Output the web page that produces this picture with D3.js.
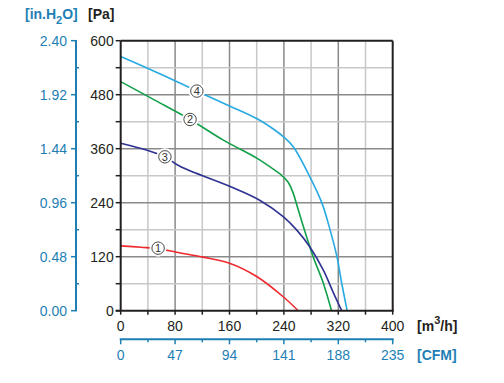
<!DOCTYPE html>
<html><head><meta charset="utf-8">
<script src="https://cdn.jsdelivr.net/npm/d3@7"></script>
<style>body{margin:0;background:#fff}svg{display:block;font-family:"Liberation Sans",Arial,sans-serif}</style>
</head><body><svg id="c" width="504" height="383"></svg>
<script>
const paTicks = [0,120,240,360,480,600];
const inTicks = [0.00,0.48,0.96,1.44,1.92,2.40];
const m3Ticks = [0,80,160,240,320,400];
const cfmTicks = [0,47,94,141,188,235];
const curve1 = [[0,144],[30,141],[55,138],[82,130],[121,119],[161,105],[200,76],[239,31],[261,0]];
const curve2 = [[0,509],[50,468],[102,425],[151,379],[200,339],[224,315],[236,302],[246,286],[253,264],[260,230],[268,190],[283,120],[298,61],[310,0]];
const curve3 = [[0,372],[40,356],[65,342],[87,321],[161,276],[205,245],[239,209],[259,179],[278,142],[298,90],[313,39],[325,0]];
const curve4 = [[0,565],[60,525],[112,488],[160,455],[200,427],[227,401],[239,387],[254,364],[278,298],[296,239],[308,179],[318,120],[325,61],[333,0]];
const curves = [
  {id:"1", data:curve1, color:"#ee2a2f", lab:[55,139]},
  {id:"2", data:curve2, color:"#13a04a", lab:[102,425]},
  {id:"3", data:curve3, color:"#2e3192", lab:[65,342]},
  {id:"4", data:curve4, color:"#27aae1", lab:[112,488]}
];
const blue = "#1f7fb4";
const svg = d3.select("#c");
const x = d3.scaleLinear().domain([0,400]).range([120.7,392.7]);
const y = d3.scaleLinear().domain([0,600]).range([310.7,40.7]);
const yIn = d3.scaleLinear().domain([0,2.4]).range([310.7,40.7]);
const xC = d3.scaleLinear().domain([0,235]).range([120.7,392.7]);

// grid
const g = svg.append("g");
d3.range(40,400,40).forEach((v,i)=>{
  g.append("line").attr("x1",x(v)).attr("x2",x(v)).attr("y1",y(0)).attr("y2",y(600))
   .attr("stroke", v%80===0?"#8a8a8a":"#c8c8c8").attr("stroke-width",1.5);
});
d3.range(60,600,60).forEach(v=>{
  g.append("line").attr("x1",x(0)).attr("x2",x(400)).attr("y1",y(v)).attr("y2",y(v))
   .attr("stroke", v%120===0?"#8a8a8a":"#c8c8c8").attr("stroke-width",1.5);
});
// frame top/right
g.append("line").attr("x1",x(0)).attr("x2",x(400)).attr("y1",y(600)).attr("y2",y(600)).attr("stroke","#231f20").attr("stroke-width",2);
g.append("line").attr("x1",x(400)).attr("x2",x(400)).attr("y1",y(0)).attr("y2",y(600)).attr("stroke","#231f20").attr("stroke-width",2);

// curves
const line = d3.line().x(d=>x(d[0])).y(d=>y(d[1])).curve(d3.curveCatmullRom.alpha(0.5));
curves.forEach(c=>{
  svg.append("path").attr("d",line(c.data)).attr("fill","none").attr("stroke",c.color).attr("stroke-width",1.6);
});
curves.forEach(c=>{
  const cx=x(c.lab[0]), cy=y(c.lab[1]);
  svg.append("circle").attr("cx",cx).attr("cy",cy).attr("r",7.5).attr("fill","#fff").attr("stroke","#fff").attr("stroke-width",2);
  svg.append("circle").attr("cx",cx).attr("cy",cy).attr("r",6.2).attr("fill","#fff").attr("stroke","#333").attr("stroke-width",0.9);
  svg.append("text").attr("x",cx).attr("y",cy+4).attr("text-anchor","middle").attr("font-size",11).attr("fill","#333").text(c.id);
});

// Pa axis (left)
const axPa = svg.append("g");
axPa.append("line").attr("x1",x(0)).attr("x2",x(0)).attr("y1",y(0)).attr("y2",y(600)).attr("stroke","#231f20").attr("stroke-width",2);
d3.range(0,601,60).forEach(v=>{
  axPa.append("line").attr("x1",x(0)-5).attr("x2",x(0)).attr("y1",y(v)).attr("y2",y(v)).attr("stroke","#231f20").attr("stroke-width",1.5);
});
paTicks.forEach(v=>{
  axPa.append("text").attr("x",x(0)-7).attr("y",y(v)+5).attr("text-anchor","end").attr("font-size",14).attr("fill","#231f20").text(v);
});
// m3/h axis (bottom)
const axM = svg.append("g");
axM.append("line").attr("x1",x(0)-5).attr("x2",x(400)+1).attr("y1",y(0)).attr("y2",y(0)).attr("stroke","#231f20").attr("stroke-width",2);
d3.range(0,401,40).forEach(v=>{
  axM.append("line").attr("x1",x(v)).attr("x2",x(v)).attr("y1",y(0)).attr("y2",y(0)+4).attr("stroke","#231f20").attr("stroke-width",1.5);
});
m3Ticks.forEach(v=>{
  axM.append("text").attr("x",x(v)).attr("y",331).attr("text-anchor","middle").attr("font-size",14).attr("fill","#231f20").text(v);
});
// in.H2O axis
const axI = svg.append("g");
const xi = 76;
axI.append("line").attr("x1",xi).attr("x2",xi).attr("y1",yIn(0)).attr("y2",yIn(2.4)).attr("stroke",blue).attr("stroke-width",2);
inTicks.forEach(v=>{
  axI.append("line").attr("x1",xi-5).attr("x2",xi+1).attr("y1",yIn(v)).attr("y2",yIn(v)).attr("stroke",blue).attr("stroke-width",1.5);
  axI.append("text").attr("x",xi-9).attr("y",yIn(v)+5).attr("text-anchor","end").attr("font-size",14).attr("fill",blue).text(v.toFixed(2));
});
d3.range(0.24,2.4,0.48).forEach(v=>{
  axI.append("line").attr("x1",xi-1).attr("x2",xi+3).attr("y1",yIn(v)).attr("y2",yIn(v)).attr("stroke",blue).attr("stroke-width",1.5);
});
// CFM axis
const axC = svg.append("g");
const yc = 339.3;
axC.append("line").attr("x1",xC(0)-1).attr("x2",xC(235)+1).attr("y1",yc).attr("y2",yc).attr("stroke",blue).attr("stroke-width",2);
cfmTicks.forEach(v=>{
  axC.append("line").attr("x1",xC(v)).attr("x2",xC(v)).attr("y1",yc).attr("y2",yc+5).attr("stroke",blue).attr("stroke-width",1.5);
  axC.append("text").attr("x",xC(v)).attr("y",360).attr("text-anchor","middle").attr("font-size",14).attr("fill",blue).text(v);
});
d3.range(23.5,235,47).forEach(v=>{
  axC.append("line").attr("x1",xC(v)).attr("x2",xC(v)).attr("y1",yc).attr("y2",yc+3).attr("stroke",blue).attr("stroke-width",1.5);
});

// unit labels
const t1 = svg.append("text").attr("x",25).attr("y",19).attr("font-size",14).attr("font-weight","bold").attr("fill",blue);
t1.append("tspan").text("[in.H");
t1.append("tspan").attr("dy",5).attr("font-size",11).text("2");
t1.append("tspan").attr("dy",-5).text("O]");
svg.append("text").attr("x",88).attr("y",19).attr("font-size",14).attr("font-weight","bold").attr("fill","#231f20").text("[Pa]");
const t2 = svg.append("text").attr("x",417).attr("y",331).attr("font-size",14).attr("font-weight","bold").attr("fill","#231f20");
t2.append("tspan").text("[m");
t2.append("tspan").attr("dy",-7).attr("font-size",11).text("3");
t2.append("tspan").attr("dy",7).text("/h]");
svg.append("text").attr("x",417).attr("y",360).attr("font-size",14).attr("font-weight","bold").attr("fill",blue).text("[CFM]");
</script></body></html>
